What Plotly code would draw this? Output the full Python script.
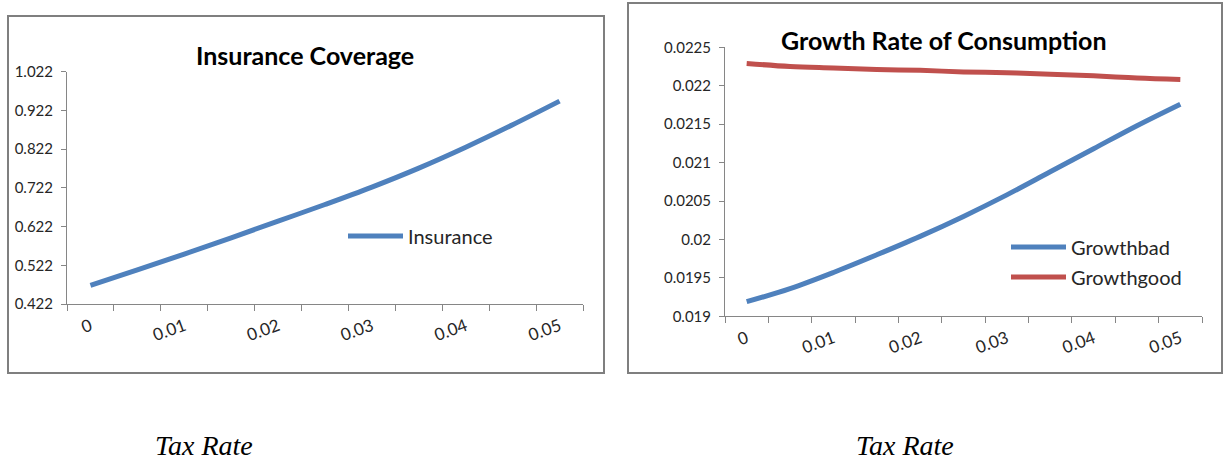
import plotly.graph_objects as go

W, H = 1226, 460

# ---- data ----
tax_rate = [0, 0.005, 0.01, 0.015, 0.02, 0.025, 0.03, 0.035, 0.04, 0.045, 0.05]
insurance = [0.470, 0.510, 0.551, 0.593, 0.636, 0.679, 0.724, 0.773, 0.827, 0.885, 0.946]
growth_bad = [0.01919, 0.01936, 0.01957, 0.01980, 0.02004, 0.02030, 0.02058, 0.02088, 0.02118, 0.02148, 0.02176]
growth_good = [0.02229, 0.02225, 0.02223, 0.02221, 0.02220, 0.02218, 0.02217, 0.02215, 0.02213, 0.02210, 0.02208]

x_tickvals = [0, 0.01, 0.02, 0.03, 0.04, 0.05]
x_ticktext = ["0", "0.01", "0.02", "0.03", "0.04", "0.05"]
x_boundaries = [-0.0025, 0.0025, 0.0075, 0.0125, 0.0175, 0.0225, 0.0275,
                0.0325, 0.0375, 0.0425, 0.0475, 0.0525]
ins_tickvals = [0.422, 0.522, 0.622, 0.722, 0.822, 0.922, 1.022]
ins_ticktext = ["0.422", "0.522", "0.622", "0.722", "0.822", "0.922", "1.022"]
gr_tickvals = [0.019, 0.0195, 0.02, 0.0205, 0.021, 0.0215, 0.022, 0.0225]
gr_ticktext = ["0.019", "0.0195", "0.02", "0.0205", "0.021", "0.0215", "0.022", "0.0225"]


def px(x):
    return x / W


def py(y):
    return 1 - y / H


BLUE = "#4F81BD"
RED = "#C0504D"
AXIS = "#868686"
TXT = "#262626"
FONT = "Lato"

fig = go.Figure()
fig.add_trace(go.Scatter(x=tax_rate, y=insurance, name="Insurance", mode="lines",
                         line=dict(color=BLUE, width=5, shape="spline"),
                         xaxis="x", yaxis="y", legend="legend"))
fig.add_trace(go.Scatter(x=tax_rate, y=growth_bad, name="Growthbad", mode="lines",
                         line=dict(color=BLUE, width=5, shape="spline"),
                         xaxis="x2", yaxis="y2", legend="legend2"))
fig.add_trace(go.Scatter(x=tax_rate, y=growth_good, name="Growthgood", mode="lines",
                         line=dict(color=RED, width=5, shape="spline"),
                         xaxis="x2", yaxis="y2", legend="legend3"))


def xaxis_cfg(d0, d1, anchor):
    return dict(domain=[px(d0), px(d1)], anchor=anchor, range=[-0.0025, 0.0525],
                tickmode="array", tickvals=x_tickvals, ticktext=x_ticktext,
                ticks="", tickangle=-20, showgrid=False, zeroline=False,
                showline=True, linecolor=AXIS, linewidth=1, automargin=False,
                ticklabelstandoff=5,
                tickfont=dict(family=FONT, size=17, color=TXT),
                minor=dict(tickmode="array", tickvals=x_boundaries, ticks="outside",
                           ticklen=6, tickcolor=AXIS, tickwidth=1, showgrid=False))


def yaxis_cfg(d0, d1, anchor, rng, tv, tt):
    return dict(domain=[py(d1), py(d0)], anchor=anchor, range=rng,
                tickmode="array", tickvals=tv, ticktext=tt,
                ticks="outside", ticklen=5, tickcolor=AXIS, tickwidth=1,
                showgrid=False, zeroline=False, showline=True, linecolor=AXIS,
                linewidth=1, automargin=False, ticklabelstandoff=5,
                tickfont=dict(family=FONT, size=15, color=TXT))


legend_common = dict(xanchor="left", yanchor="middle", bgcolor="rgba(0,0,0,0)",
                     font=dict(family=FONT, size=20, color=TXT), itemwidth=55,
                     borderwidth=0)

fig.update_layout(
    width=W, height=H,
    margin=dict(l=0, r=0, t=0, b=0, pad=0, autoexpand=False),
    paper_bgcolor="white", plot_bgcolor="white",
    xaxis=xaxis_cfg(67, 583, "y"),
    yaxis=yaxis_cfg(71.7, 304, "x", [0.422, 1.022], ins_tickvals, ins_ticktext),
    xaxis2=xaxis_cfg(725, 1202, "y2"),
    yaxis2=yaxis_cfg(47.3, 316.3, "x2", [0.019, 0.0225], gr_tickvals, gr_ticktext),
    legend=dict(x=px(343), y=py(236), **legend_common),
    legend2=dict(x=px(1006), y=py(247), **legend_common),
    legend3=dict(x=px(1006), y=py(277), **legend_common),
    showlegend=True,
    shapes=[
        dict(type="rect", xref="paper", yref="paper", x0=px(8), x1=px(604),
             y0=py(373), y1=py(16), line=dict(color="#7F7F7F", width=2)),
        dict(type="rect", xref="paper", yref="paper", x0=px(628), x1=px(1222),
             y0=py(373), y1=py(3), line=dict(color="#7F7F7F", width=2)),
    ],
    annotations=[
        dict(text="<b>Insurance Coverage</b>", xref="paper", yref="paper",
             x=px(305), y=py(55), showarrow=False, xanchor="center", yanchor="middle",
             font=dict(family=FONT, size=25, color="black")),
        dict(text="<b>Growth Rate of Consumption</b>", xref="paper", yref="paper",
             x=px(944), y=py(40), showarrow=False, xanchor="center", yanchor="middle",
             font=dict(family=FONT, size=25, color="black")),
        dict(text="<i>Tax Rate</i>", xref="paper", yref="paper",
             x=px(204), y=py(445), showarrow=False, xanchor="center", yanchor="middle",
             font=dict(family="Liberation Serif", size=28, color="black")),
        dict(text="<i>Tax Rate</i>", xref="paper", yref="paper",
             x=px(905), y=py(445), showarrow=False, xanchor="center", yanchor="middle",
             font=dict(family="Liberation Serif", size=28, color="black")),
    ],
)

fig.write_html(
    "out.html",
    config={"displayModeBar": False},
    post_script=(
        "var gd=document.getElementById('{plot_id}');"
        "gd.style.position='fixed';gd.style.top='0px';gd.style.left='0px';"
        "document.body.style.margin='0';document.body.style.padding='0';"
        "document.body.style.overflow='hidden';"
        "document.documentElement.style.overflow='hidden';"
    ),
)
